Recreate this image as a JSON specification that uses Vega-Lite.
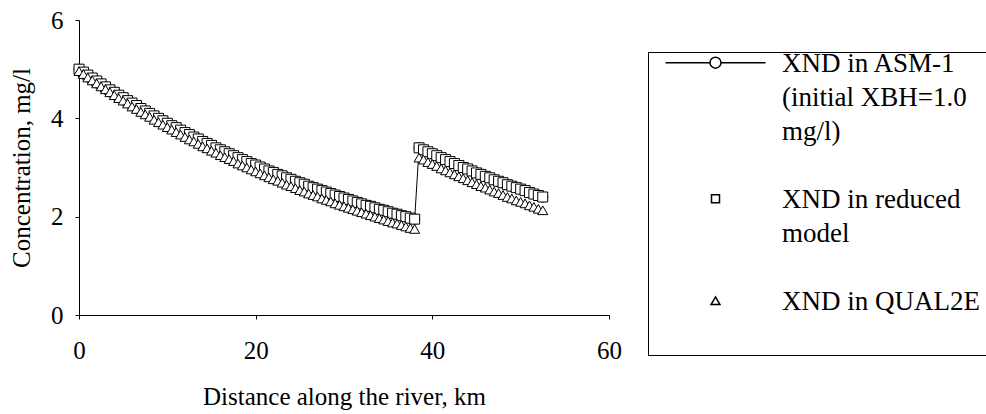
{
  "$schema": "https://vega.github.io/schema/vega-lite/v6.json",
  "width": 530,
  "height": 295,
  "autosize": {"type": "none"},
  "padding": {"left": 79, "top": 20, "right": 377, "bottom": 99},
  "background": "white",
  "config": {
    "view": {"stroke": null},
    "style": {"guide-label": {"lineHeight": 34, "font": "Liberation Serif"}},
    "axis": {
      "grid": false,
      "domainColor": "black",
      "domainWidth": 1,
      "tickColor": "black",
      "tickWidth": 1,
      "tickSize": 4,
      "labelColor": "black",
      "titleColor": "black",
      "labelFont": "Liberation Serif",
      "titleFont": "Liberation Serif",
      "labelFontSize": 25,
      "titleFontSize": 25,
      "titleFontWeight": "normal",
      "labelFlush": false,
      "labelOverlap": false
    },
    "legend": {
      "labelFont": "Liberation Serif",
      "labelFontSize": 27,
      "labelColor": "black"
    }
  },
  "data": {
    "values": [
      {"d": 0, "asm": 5.00, "reduced": 5.00, "qual2e": 4.96},
      {"d": 0.5, "asm": 4.94, "reduced": 4.94, "qual2e": 4.90},
      {"d": 1, "asm": 4.88, "reduced": 4.88, "qual2e": 4.83},
      {"d": 1.5, "asm": 4.82, "reduced": 4.82, "qual2e": 4.77},
      {"d": 2, "asm": 4.76, "reduced": 4.76, "qual2e": 4.71},
      {"d": 2.5, "asm": 4.70, "reduced": 4.70, "qual2e": 4.65},
      {"d": 3, "asm": 4.64, "reduced": 4.64, "qual2e": 4.59},
      {"d": 3.5, "asm": 4.58, "reduced": 4.58, "qual2e": 4.53},
      {"d": 4, "asm": 4.53, "reduced": 4.53, "qual2e": 4.47},
      {"d": 4.5, "asm": 4.47, "reduced": 4.47, "qual2e": 4.41},
      {"d": 5, "asm": 4.42, "reduced": 4.42, "qual2e": 4.36},
      {"d": 5.5, "asm": 4.36, "reduced": 4.36, "qual2e": 4.30},
      {"d": 6, "asm": 4.31, "reduced": 4.31, "qual2e": 4.24},
      {"d": 6.5, "asm": 4.26, "reduced": 4.26, "qual2e": 4.19},
      {"d": 7, "asm": 4.20, "reduced": 4.20, "qual2e": 4.13},
      {"d": 7.5, "asm": 4.15, "reduced": 4.15, "qual2e": 4.08},
      {"d": 8, "asm": 4.10, "reduced": 4.10, "qual2e": 4.03},
      {"d": 8.5, "asm": 4.05, "reduced": 4.05, "qual2e": 3.97},
      {"d": 9, "asm": 4.00, "reduced": 4.00, "qual2e": 3.92},
      {"d": 9.5, "asm": 3.95, "reduced": 3.95, "qual2e": 3.87},
      {"d": 10, "asm": 3.90, "reduced": 3.90, "qual2e": 3.82},
      {"d": 10.5, "asm": 3.85, "reduced": 3.85, "qual2e": 3.77},
      {"d": 11, "asm": 3.81, "reduced": 3.81, "qual2e": 3.72},
      {"d": 11.5, "asm": 3.76, "reduced": 3.76, "qual2e": 3.67},
      {"d": 12, "asm": 3.71, "reduced": 3.71, "qual2e": 3.62},
      {"d": 12.5, "asm": 3.67, "reduced": 3.67, "qual2e": 3.57},
      {"d": 13, "asm": 3.62, "reduced": 3.62, "qual2e": 3.53},
      {"d": 13.5, "asm": 3.58, "reduced": 3.58, "qual2e": 3.48},
      {"d": 14, "asm": 3.53, "reduced": 3.53, "qual2e": 3.43},
      {"d": 14.5, "asm": 3.49, "reduced": 3.49, "qual2e": 3.39},
      {"d": 15, "asm": 3.45, "reduced": 3.45, "qual2e": 3.34},
      {"d": 15.5, "asm": 3.40, "reduced": 3.40, "qual2e": 3.30},
      {"d": 16, "asm": 3.36, "reduced": 3.36, "qual2e": 3.25},
      {"d": 16.5, "asm": 3.32, "reduced": 3.32, "qual2e": 3.21},
      {"d": 17, "asm": 3.28, "reduced": 3.28, "qual2e": 3.17},
      {"d": 17.5, "asm": 3.24, "reduced": 3.24, "qual2e": 3.13},
      {"d": 18, "asm": 3.20, "reduced": 3.20, "qual2e": 3.08},
      {"d": 18.5, "asm": 3.16, "reduced": 3.16, "qual2e": 3.04},
      {"d": 19, "asm": 3.12, "reduced": 3.12, "qual2e": 3.00},
      {"d": 19.5, "asm": 3.08, "reduced": 3.08, "qual2e": 2.96},
      {"d": 20, "asm": 3.05, "reduced": 3.05, "qual2e": 2.92},
      {"d": 20.5, "asm": 3.01, "reduced": 3.01, "qual2e": 2.88},
      {"d": 21, "asm": 2.97, "reduced": 2.97, "qual2e": 2.84},
      {"d": 21.5, "asm": 2.93, "reduced": 2.93, "qual2e": 2.80},
      {"d": 22, "asm": 2.90, "reduced": 2.90, "qual2e": 2.76},
      {"d": 22.5, "asm": 2.86, "reduced": 2.86, "qual2e": 2.73},
      {"d": 23, "asm": 2.83, "reduced": 2.83, "qual2e": 2.69},
      {"d": 23.5, "asm": 2.79, "reduced": 2.79, "qual2e": 2.65},
      {"d": 24, "asm": 2.76, "reduced": 2.76, "qual2e": 2.62},
      {"d": 24.5, "asm": 2.72, "reduced": 2.72, "qual2e": 2.58},
      {"d": 25, "asm": 2.69, "reduced": 2.69, "qual2e": 2.54},
      {"d": 25.5, "asm": 2.66, "reduced": 2.66, "qual2e": 2.51},
      {"d": 26, "asm": 2.62, "reduced": 2.62, "qual2e": 2.47},
      {"d": 26.5, "asm": 2.59, "reduced": 2.59, "qual2e": 2.44},
      {"d": 27, "asm": 2.56, "reduced": 2.56, "qual2e": 2.41},
      {"d": 27.5, "asm": 2.53, "reduced": 2.53, "qual2e": 2.37},
      {"d": 28, "asm": 2.50, "reduced": 2.50, "qual2e": 2.34},
      {"d": 28.5, "asm": 2.47, "reduced": 2.47, "qual2e": 2.31},
      {"d": 29, "asm": 2.44, "reduced": 2.44, "qual2e": 2.27},
      {"d": 29.5, "asm": 2.41, "reduced": 2.41, "qual2e": 2.24},
      {"d": 30, "asm": 2.38, "reduced": 2.38, "qual2e": 2.21},
      {"d": 30.5, "asm": 2.35, "reduced": 2.35, "qual2e": 2.18},
      {"d": 31, "asm": 2.32, "reduced": 2.32, "qual2e": 2.15},
      {"d": 31.5, "asm": 2.29, "reduced": 2.29, "qual2e": 2.12},
      {"d": 32, "asm": 2.26, "reduced": 2.26, "qual2e": 2.09},
      {"d": 32.5, "asm": 2.23, "reduced": 2.23, "qual2e": 2.06},
      {"d": 33, "asm": 2.21, "reduced": 2.21, "qual2e": 2.03},
      {"d": 33.5, "asm": 2.18, "reduced": 2.18, "qual2e": 2.00},
      {"d": 34, "asm": 2.15, "reduced": 2.15, "qual2e": 1.97},
      {"d": 34.5, "asm": 2.13, "reduced": 2.13, "qual2e": 1.94},
      {"d": 35, "asm": 2.10, "reduced": 2.10, "qual2e": 1.91},
      {"d": 35.5, "asm": 2.07, "reduced": 2.07, "qual2e": 1.88},
      {"d": 36, "asm": 2.05, "reduced": 2.05, "qual2e": 1.86},
      {"d": 36.5, "asm": 2.02, "reduced": 2.02, "qual2e": 1.83},
      {"d": 37, "asm": 2.00, "reduced": 2.00, "qual2e": 1.80},
      {"d": 37.5, "asm": 1.97, "reduced": 1.97, "qual2e": 1.77},
      {"d": 38, "asm": 1.95, "reduced": 1.95, "qual2e": 1.75},
      {"d": 38.5, "asm": 3.40, "reduced": 3.40, "qual2e": 3.20},
      {"d": 39, "asm": 3.36, "reduced": 3.36, "qual2e": 3.16},
      {"d": 39.5, "asm": 3.32, "reduced": 3.32, "qual2e": 3.11},
      {"d": 40, "asm": 3.28, "reduced": 3.28, "qual2e": 3.07},
      {"d": 40.5, "asm": 3.24, "reduced": 3.24, "qual2e": 3.03},
      {"d": 41, "asm": 3.20, "reduced": 3.20, "qual2e": 2.98},
      {"d": 41.5, "asm": 3.16, "reduced": 3.16, "qual2e": 2.94},
      {"d": 42, "asm": 3.12, "reduced": 3.12, "qual2e": 2.90},
      {"d": 42.5, "asm": 3.08, "reduced": 3.08, "qual2e": 2.86},
      {"d": 43, "asm": 3.04, "reduced": 3.04, "qual2e": 2.82},
      {"d": 43.5, "asm": 3.00, "reduced": 3.00, "qual2e": 2.78},
      {"d": 44, "asm": 2.97, "reduced": 2.97, "qual2e": 2.74},
      {"d": 44.5, "asm": 2.93, "reduced": 2.93, "qual2e": 2.70},
      {"d": 45, "asm": 2.89, "reduced": 2.89, "qual2e": 2.66},
      {"d": 45.5, "asm": 2.86, "reduced": 2.86, "qual2e": 2.62},
      {"d": 46, "asm": 2.82, "reduced": 2.82, "qual2e": 2.59},
      {"d": 46.5, "asm": 2.79, "reduced": 2.79, "qual2e": 2.55},
      {"d": 47, "asm": 2.75, "reduced": 2.75, "qual2e": 2.51},
      {"d": 47.5, "asm": 2.72, "reduced": 2.72, "qual2e": 2.48},
      {"d": 48, "asm": 2.69, "reduced": 2.69, "qual2e": 2.44},
      {"d": 48.5, "asm": 2.65, "reduced": 2.65, "qual2e": 2.40},
      {"d": 49, "asm": 2.62, "reduced": 2.62, "qual2e": 2.37},
      {"d": 49.5, "asm": 2.59, "reduced": 2.59, "qual2e": 2.33},
      {"d": 50, "asm": 2.56, "reduced": 2.56, "qual2e": 2.30},
      {"d": 50.5, "asm": 2.53, "reduced": 2.53, "qual2e": 2.27},
      {"d": 51, "asm": 2.49, "reduced": 2.49, "qual2e": 2.23},
      {"d": 51.5, "asm": 2.46, "reduced": 2.46, "qual2e": 2.20},
      {"d": 52, "asm": 2.43, "reduced": 2.43, "qual2e": 2.16},
      {"d": 52.5, "asm": 2.40, "reduced": 2.40, "qual2e": 2.13}
    ]
  },
  "transform": [{"fold": ["asm", "reduced", "qual2e"], "as": ["series", "val"]}],
  "encoding": {
    "x": {
      "field": "d",
      "type": "quantitative",
      "scale": {"domain": [0, 60], "nice": false},
      "axis": {
        "values": [0, 20, 40, 60],
        "title": "Distance along the river, km",
        "labelPadding": 19,
        "titlePadding": 21
      }
    },
    "y": {
      "field": "val",
      "type": "quantitative",
      "scale": {"domain": [0, 6], "nice": false},
      "axis": {
        "values": [0, 2, 4, 6],
        "title": "Concentration, mg/l",
        "labelPadding": 12,
        "titlePadding": 16
      }
    }
  },
  "layer": [
    {
      "transform": [{"filter": "datum.series === 'asm'"}],
      "mark": {"type": "line", "color": "black", "strokeWidth": 1}
    },
    {
      "transform": [{"filter": "datum.series === 'asm'"}],
      "mark": {"type": "point", "shape": "circle", "filled": true, "fill": "white", "stroke": "black", "strokeWidth": 1, "size": 100, "opacity": 1}
    },
    {
      "transform": [{"filter": "datum.series === 'reduced'"}],
      "mark": {"type": "point", "shape": "square", "filled": true, "fill": "white", "stroke": "black", "strokeWidth": 1, "size": 100, "opacity": 1}
    },
    {
      "transform": [{"filter": "datum.series === 'qual2e'"}],
      "mark": {"type": "point", "shape": "triangle-up", "filled": true, "fill": "white", "stroke": "black", "strokeWidth": 1, "size": 100, "opacity": 1}
    },
    {
      "transform": [{"filter": "false"}],
      "mark": {"type": "point", "filled": true, "fill": "white", "stroke": "black", "strokeWidth": 1, "size": 64, "opacity": 1},
      "encoding": {
        "shape": {
          "field": "series",
          "type": "nominal",
          "scale": {
            "domain": ["asm", "reduced", "qual2e"],
            "range": [
              "M-12.5,-2.2H-1.375M1.375,-2.2H12.5M1.375,-2.2A1.375,1.375,0,1,1,-1.375,-2.2A1.375,1.375,0,1,1,1.375,-2.2",
              "M-1,-3.2H1V-1.2H-1Z",
              "M0,-3.15L1.1,-1.25H-1.1Z"
            ]
          },
          "legend": {
            "title": null,
            "orient": "none",
            "legendX": 569,
            "legendY": 32,
            "padding": 6,
            "strokeColor": "black",
            "fillColor": "white",
            "symbolSize": 64,
            "symbolOpacity": 1,
            "symbolOffset": 48,
            "labelOffset": 53,
            "rowPadding": 40,
            "labelFont": "Liberation Serif",
            "labelFontSize": 27,
            "labelColor": "black",
            "labelBaseline": "alphabetic",
            "labelLimit": 0,
            "labelExpr": "datum.value === 'asm' ? ['XND in ASM-1', '(initial XBH=1.0', 'mg/l)'] : datum.value === 'reduced' ? ['XND in reduced', 'model'] : ['XND in QUAL2E', '']"
          }
        }
      }
    }
  ]
}
